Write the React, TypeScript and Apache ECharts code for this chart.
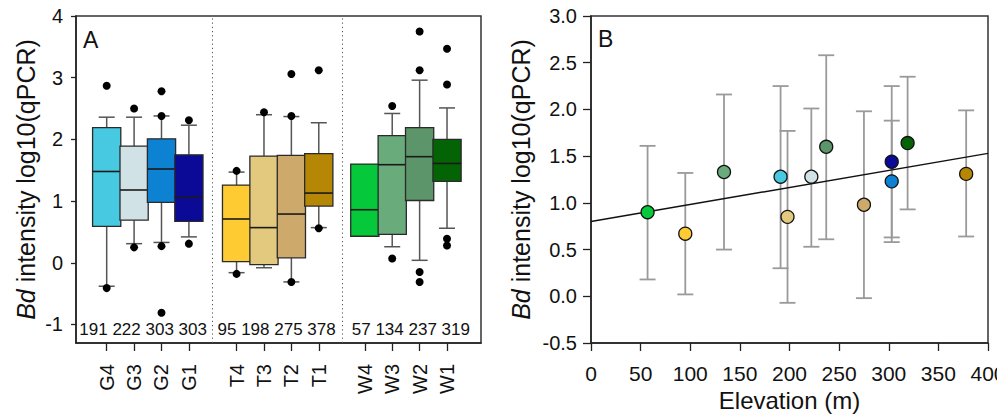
import React, { useEffect, useRef } from "react";
import * as echarts from "echarts";

// ---- data ----
const siteLabels = ["G4", "G3", "G2", "G1", "T4", "T3", "T2", "T1", "W4", "W3", "W2", "W1"];
const elevations = [191, 222, 303, 303, 95, 198, 275, 378, 57, 134, 237, 319];
const boxQ1 = [0.59, 0.69, 0.98, 0.67, 0.02, -0.03, 0.08, 0.92, 0.43, 0.46, 1.01, 1.32];
const boxMedian = [1.48, 1.18, 1.52, 1.06, 0.71, 0.57, 0.79, 1.13, 0.86, 1.59, 1.72, 1.61];
const boxQ3 = [2.19, 1.89, 2.01, 1.75, 1.26, 1.73, 1.74, 1.77, 1.6, 2.06, 2.19, 2.0];
const whiskerLow = [-0.38, 0.31, 0.33, 0.42, -0.16, -0.08, -0.31, 0.57, 0.43, 0.26, 0.04, 0.56];
const whiskerHigh = [2.36, 2.36, 2.38, 2.23, 1.47, 2.4, 2.37, 2.27, 1.6, 2.42, 2.96, 2.51];
const outliers = [
  [2.87, -0.41],
  [2.5, 0.25],
  [2.78, 2.38, 0.27, -0.81],
  [2.31, 0.31],
  [1.49, -0.18],
  [2.44],
  [3.06, 2.38, -0.31],
  [3.12, 0.56],
  [],
  [2.54, 0.07],
  [3.75, 3.12, -0.15, -0.31],
  [3.47, 2.89, 0.39, 0.28],
];
const siteMeans = [1.28, 1.28, 1.23, 1.44, 0.67, 0.85, 0.98, 1.31, 0.9, 1.33, 1.6, 1.64];
const errHigh = [2.25, 2.01, 1.88, 2.25, 1.32, 1.77, 1.98, 1.99, 1.61, 2.16, 2.58, 2.35];
const errLow = [0.3, 0.53, 0.58, 0.63, 0.02, -0.07, -0.02, 0.64, 0.18, 0.5, 0.61, 0.93];
const trendStart = [0, 0.8];
const trendEnd = [400, 1.53];
const leftTicks = [-1, 0, 1, 2, 3, 4];

// ---- layout / style ----
const slotX = [1, 2, 3, 4, 5.74, 6.74, 7.74, 8.74, 10.42, 11.42, 12.42, 13.42];
const groupTextX = [2.33, 7.2, 12.1];
const dividerX = [4.87, 9.6];
const siteColors = [
  "#47C9E1", "#D1E2E6", "#0E82D2", "#0A0A96",
  "#FECB33", "#E3C97E", "#CDAA6C", "#B68605",
  "#05C93A", "#6AAB7C", "#5B9569", "#046304",
];
const FONT = "'Liberation Sans', Arial, sans-serif";

export default function App() {
  const ref = useRef<HTMLDivElement>(null);
  useEffect(() => {
    document.body.style.margin = "0";
    if (!ref.current) return;
    const chart = echarts.init(ref.current, null, { renderer: "svg" });

    const groupTexts = [0, 1, 2].map((g) =>
      elevations.slice(g * 4, g * 4 + 4).join(" ")
    );

    const outlierData: number[][] = [];
    outliers.forEach((arr, i) => arr.forEach((v) => outlierData.push([slotX[i], v])));

    const labelFor = (v: number) => {
      const i = slotX.findIndex((p) => Math.abs(p - v) < 1e-6);
      return i >= 0 ? siteLabels[i] : "";
    };

    const axisLineStyle = { color: "#222", width: 1.5 };

    const option: any = {
      animation: false,
      textStyle: { fontFamily: FONT },
      grid: [
        { left: 76, top: 16, width: 405, height: 327, show: true, borderColor: "#333", borderWidth: 1.5, backgroundColor: "transparent", containLabel: false, outerBoundsMode: "none" },
        { left: 591, top: 16, width: 397, height: 327, show: true, borderColor: "#333", borderWidth: 1.5, backgroundColor: "transparent", containLabel: false, outerBoundsMode: "none" },
      ],
      xAxis: [
        {
          gridIndex: 0,
          type: "value",
          min: -0.12,
          max: 14.66,
          axisLine: { show: true, onZero: false, lineStyle: axisLineStyle },
          axisTick: { show: true, length: 8, customValues: slotX, lineStyle: { color: "#222", width: 1.3 } },
          axisLabel: {
            customValues: slotX,
            rotate: 90,
            margin: 21,
            fontSize: 20,
            color: "#111",
            fontFamily: FONT,
            formatter: (v: number) => labelFor(v),
          },
          splitLine: { show: false },
        },
        {
          gridIndex: 1,
          type: "value",
          min: 0,
          max: 400,
          interval: 50,
          name: "Elevation (m)",
          nameLocation: "middle",
          nameGap: 45,
          nameTextStyle: { fontSize: 24, color: "#111", fontFamily: FONT },
          axisLine: { show: true, onZero: false, lineStyle: axisLineStyle },
          axisTick: { show: true, length: 8, lineStyle: { color: "#222", width: 1.3 } },
          axisLabel: { fontSize: 21, margin: 20, color: "#111", fontFamily: FONT, hideOverlap: false },
          splitLine: { show: false },
        },
      ],
      yAxis: [
        {
          gridIndex: 0,
          type: "value",
          min: -1.3,
          max: 4,
          axisLine: { show: true, onZero: false, lineStyle: axisLineStyle },
          axisTick: { show: true, length: 5, customValues: leftTicks, lineStyle: { color: "#222", width: 1.3 } },
          axisLabel: { customValues: leftTicks, fontSize: 20, margin: 13, color: "#111", fontFamily: FONT },
          splitLine: { show: false },
          name: "{i|Bd} intensity log10(qPCR)",
          nameLocation: "middle",
          nameGap: 38,
          nameRotate: 90,
          nameTextStyle: {
            fontSize: 25,
            color: "#111",
            fontFamily: FONT,
            rich: { i: { fontStyle: "italic", fontSize: 25, color: "#111", fontFamily: FONT } },
          },
        },
        {
          gridIndex: 1,
          type: "value",
          min: -0.5,
          max: 3,
          interval: 0.5,
          axisLine: { show: true, onZero: false, lineStyle: axisLineStyle },
          axisTick: { show: true, length: 8, lineStyle: { color: "#222", width: 1.3 } },
          axisLabel: { fontSize: 20, margin: 14, color: "#111", fontFamily: FONT, formatter: (v: number) => v.toFixed(1) },
          splitLine: { show: false },
          name: "{i|Bd} intensity log10(qPCR)",
          nameLocation: "middle",
          nameGap: 58,
          nameRotate: 90,
          nameTextStyle: {
            fontSize: 25,
            color: "#111",
            fontFamily: FONT,
            rich: { i: { fontStyle: "italic", fontSize: 25, color: "#111", fontFamily: FONT } },
          },
        },
      ],
      graphic: [
        { type: "text", left: 83, top: 28, style: { text: "A", fontSize: 23, fill: "#111", fontFamily: FONT } },
        { type: "text", left: 598, top: 27, style: { text: "B", fontSize: 23, fill: "#111", fontFamily: FONT } },
      ],
      series: [
        {
          type: "custom",
          xAxisIndex: 0,
          yAxisIndex: 0,
          z: 2,
          data: slotX.map((x, i) => [x, boxQ1[i], boxMedian[i], boxQ3[i], whiskerLow[i], whiskerHigh[i]]),
          renderItem: (params: any, api: any) => {
            const x = api.value(0);
            const q1 = api.value(1), med = api.value(2), q3 = api.value(3);
            const lo = api.value(4), hi = api.value(5);
            const halfW = api.size([1, 0])[0] * 0.515;
            const cap = 8;
            const pQ1 = api.coord([x, q1]);
            const pQ3 = api.coord([x, q3]);
            const pMed = api.coord([x, med]);
            const pLo = api.coord([x, lo]);
            const pHi = api.coord([x, hi]);
            const cx = pMed[0];
            const wStyle = { stroke: "#555", lineWidth: 1.5 };
            const children: any[] = [];
            if (hi > q3) {
              children.push({ type: "line", shape: { x1: cx, y1: pQ3[1], x2: cx, y2: pHi[1] }, style: wStyle });
              children.push({ type: "line", shape: { x1: cx - cap, y1: pHi[1], x2: cx + cap, y2: pHi[1] }, style: wStyle });
            }
            if (lo < q1) {
              children.push({ type: "line", shape: { x1: cx, y1: pQ1[1], x2: cx, y2: pLo[1] }, style: wStyle });
              children.push({ type: "line", shape: { x1: cx - cap, y1: pLo[1], x2: cx + cap, y2: pLo[1] }, style: wStyle });
            }
            children.push({
              type: "rect",
              shape: { x: cx - halfW, y: pQ3[1], width: halfW * 2, height: pQ1[1] - pQ3[1] },
              style: { fill: siteColors[params.dataIndex], stroke: "#2a2a2a", lineWidth: 1.3 },
            });
            children.push({
              type: "line",
              shape: { x1: cx - halfW, y1: pMed[1], x2: cx + halfW, y2: pMed[1] },
              style: { stroke: "#1a1a1a", lineWidth: 1.6 },
            });
            return { type: "group", children };
          },
        },
        {
          type: "scatter",
          xAxisIndex: 0,
          yAxisIndex: 0,
          z: 3,
          symbolSize: 8,
          itemStyle: { color: "#000", opacity: 1 },
          data: outlierData,
          markLine: {
            silent: true,
            symbol: ["none", "none"],
            label: { show: false },
            lineStyle: { type: [1.2, 3], color: "#555", width: 1, opacity: 1 },
            data: dividerX.map((x) => ({ xAxis: x })),
          },
        },
        {
          type: "scatter",
          xAxisIndex: 0,
          yAxisIndex: 0,
          z: 3,
          symbolSize: 1,
          itemStyle: { color: "rgba(0,0,0,0)", opacity: 1 },
          label: {
            show: true,
            position: "inside",
            fontSize: 17,
            color: "#111",
            fontFamily: FONT,
            formatter: (p: any) => p.name,
          },
          data: groupTexts.map((t, g) => ({ name: t, value: [groupTextX[g], -1.08] })),
        },
        {
          type: "custom",
          xAxisIndex: 1,
          yAxisIndex: 1,
          z: 2,
          data: elevations.map((e, i) => [e, errLow[i], errHigh[i]]),
          renderItem: (params: any, api: any) => {
            const x = api.value(0);
            const pLo = api.coord([x, api.value(1)]);
            const pHi = api.coord([x, api.value(2)]);
            const cap = 8;
            const st = { stroke: "#9a9a9a", lineWidth: 1.8 };
            return {
              type: "group",
              children: [
                { type: "line", shape: { x1: pLo[0], y1: pLo[1], x2: pHi[0], y2: pHi[1] }, style: st },
                { type: "line", shape: { x1: pLo[0] - cap, y1: pLo[1], x2: pLo[0] + cap, y2: pLo[1] }, style: st },
                { type: "line", shape: { x1: pHi[0] - cap, y1: pHi[1], x2: pHi[0] + cap, y2: pHi[1] }, style: st },
              ],
            };
          },
        },
        {
          type: "line",
          xAxisIndex: 1,
          yAxisIndex: 1,
          z: 3,
          symbol: "none",
          lineStyle: { color: "#111", width: 1.4 },
          data: [trendStart, trendEnd],
        },
        {
          type: "scatter",
          xAxisIndex: 1,
          yAxisIndex: 1,
          z: 4,
          symbolSize: 13,
          data: elevations.map((e, i) => ({
            value: [e, siteMeans[i]],
            itemStyle: { color: siteColors[i], borderColor: "#111", borderWidth: 1.3, opacity: 1 },
          })),
        },
      ],
    };
    chart.setOption(option);
    return () => chart.dispose();
  }, []);
  return <div ref={ref} style={{ width: 997, height: 418 }} />;
}
